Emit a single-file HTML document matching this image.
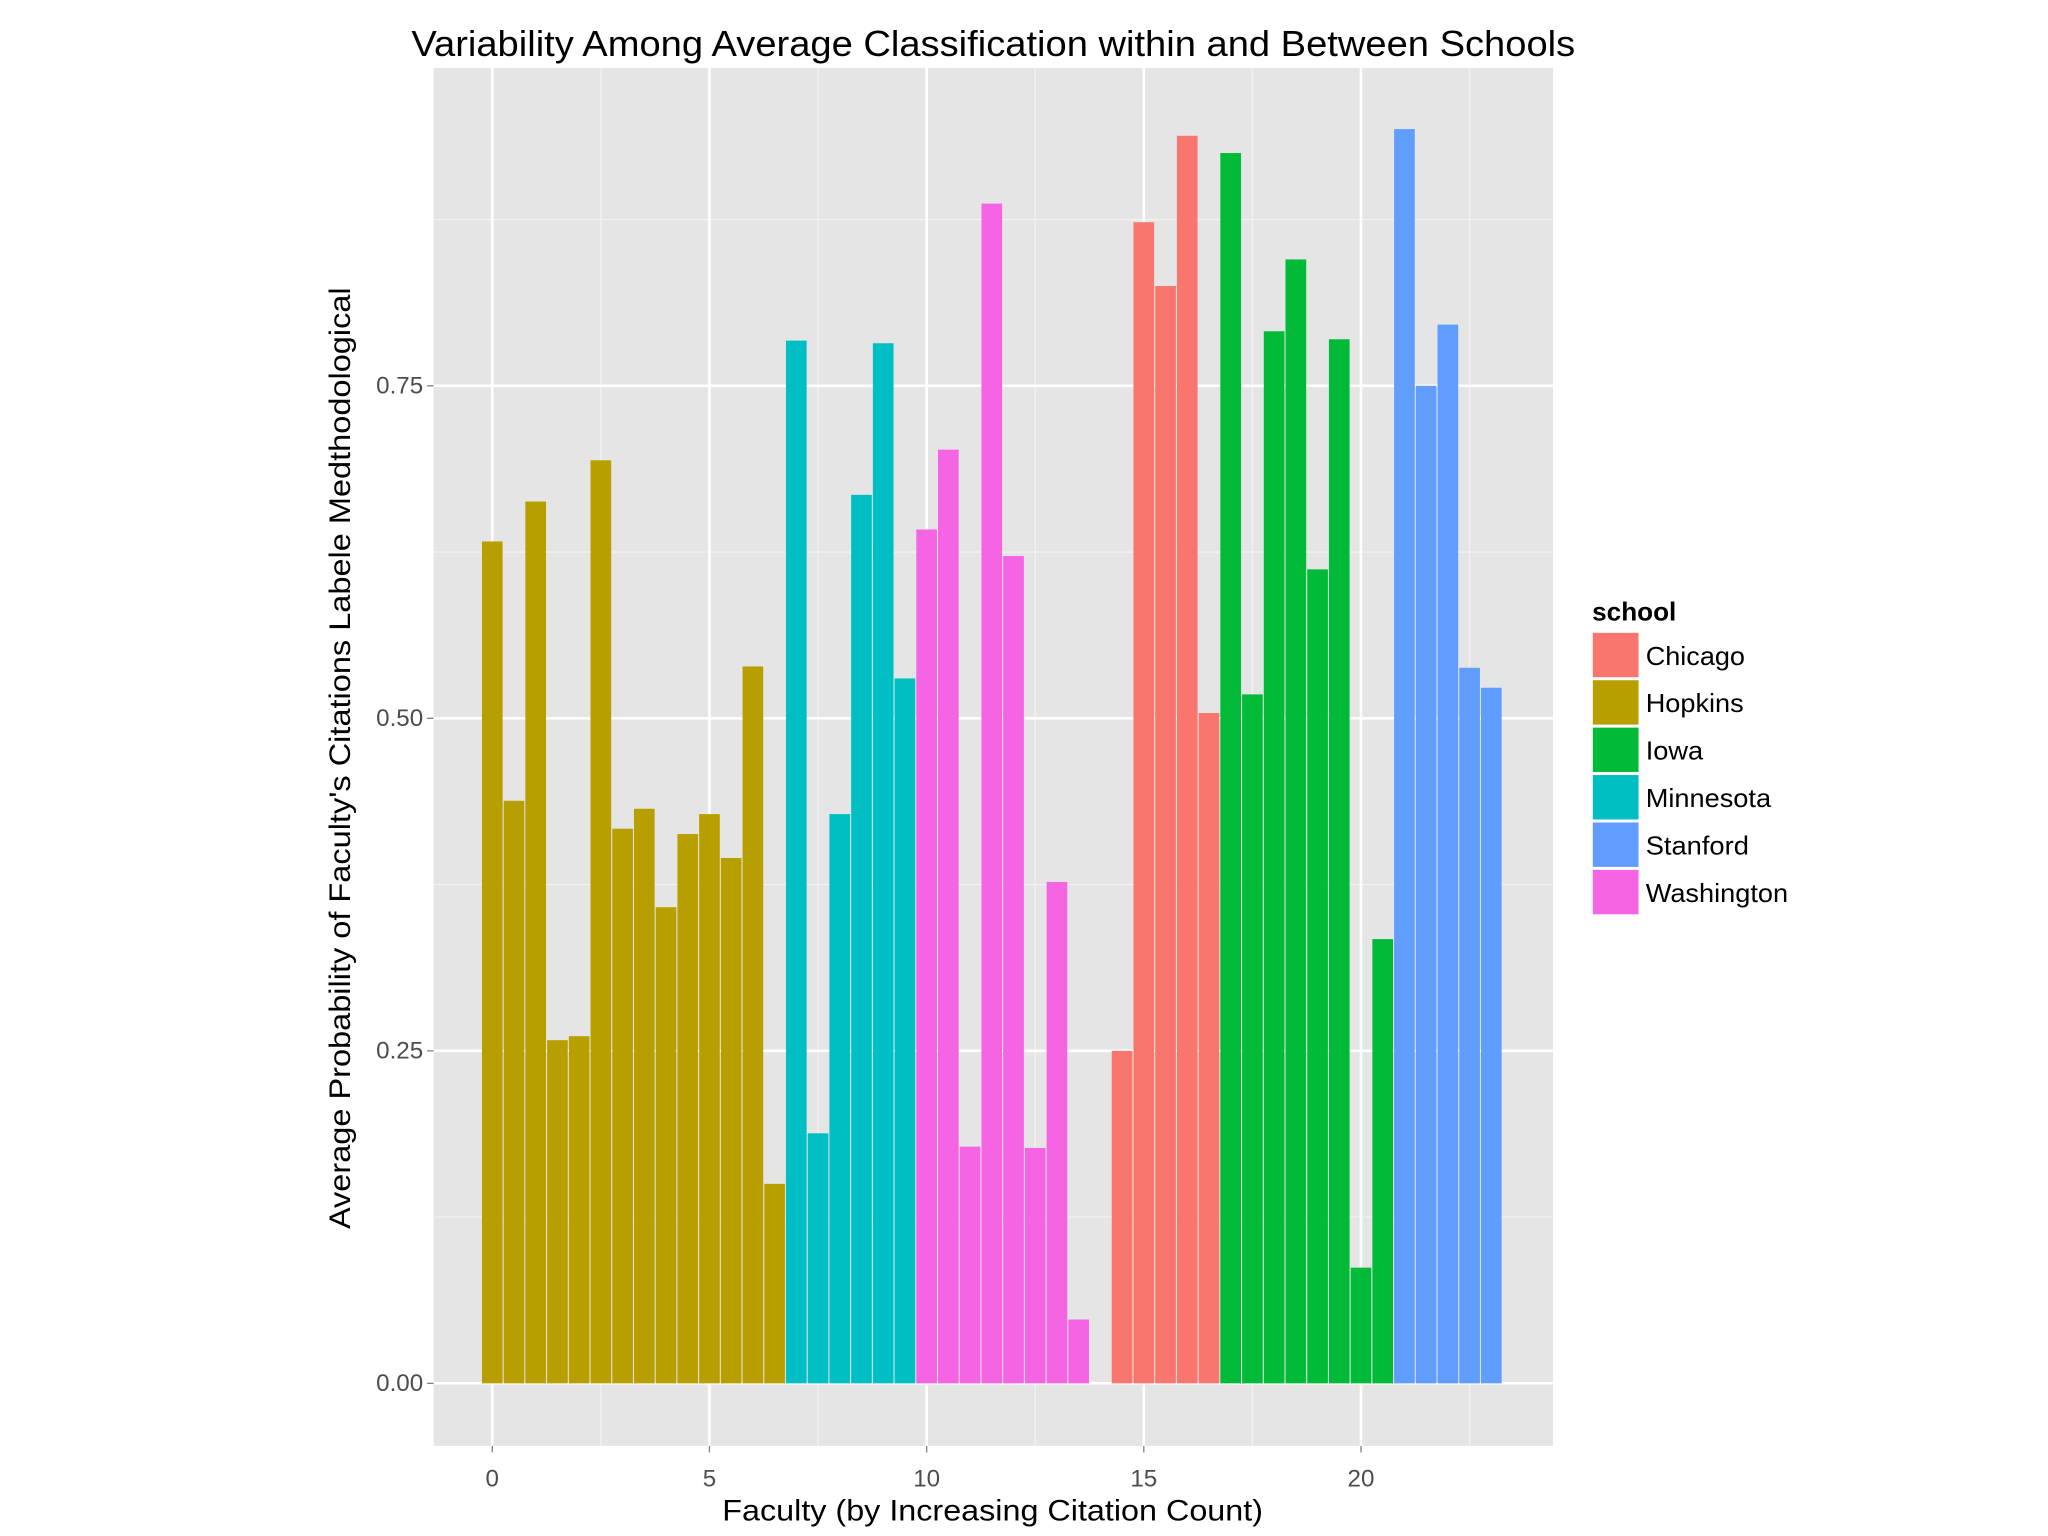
<!DOCTYPE html>
<html><head><meta charset="utf-8"><style>
html,body{margin:0;padding:0;background:#fff;}
svg{display:block;font-family:"Liberation Sans",Arial,sans-serif;}
</style></head><body>
<svg id="chart" width="2048" height="1536" viewBox="0 0 1568 1176" xmlns="http://www.w3.org/2000/svg">
<text x="315" y="43" font-size="28" textLength="891" lengthAdjust="spacingAndGlyphs" fill="#000">Variability Among Average Classification within and Between Schools</text>
<rect x="332" y="52" width="857" height="1055" fill="#E5E5E5"/>
<g id="grid"></g>
<g id="bars"></g>
<g id="axes"></g>
<text transform="translate(268,941) rotate(-90)" font-size="23" textLength="721" lengthAdjust="spacingAndGlyphs" fill="#000">Average Probability of Faculty's Citations Labele Medthodological</text>
<text x="553" y="1164" font-size="23" textLength="414" lengthAdjust="spacingAndGlyphs" fill="#000">Faculty (by Increasing Citation Count)</text>
<g id="legend"></g>
</svg>
<script>
const schools = ["Chicago","Hopkins","Iowa","Minnesota","Stanford","Washington"];
const colors = ["#F8766D","#B79F00","#00BA38","#00BFC4","#619CFF","#F564E3"];
const hopkinsValues = [0.633,0.438,0.663,0.258,0.261,0.694,0.417,0.432,0.358,0.413,0.428,0.395,0.539,0.150];
const minnesotaValues = [0.784,0.188,0.428,0.668,0.782,0.530];
const washingtonValues = [0.642,0.702,0.178,0.887,0.622,0.177,0.377,0.048];
const chicagoValues = [0.250,0.873,0.825,0.938,0.504];
const iowaValues = [0.925,0.518,0.791,0.845,0.612,0.785,0.087,0.334];
const stanfordValues = [0.943,0.750,0.796,0.538,0.523];
const seriesStart = {Hopkins:0, Minnesota:7, Washington:10, Chicago:14.5, Iowa:17, Stanford:21};
const xTicks = [0,5,10,15,20];
const yTicks = [0,0.25,0.5,0.75];
const yTickLabels = ["0.00","0.25","0.50","0.75"];

const NS="http://www.w3.org/2000/svg";
const X0=332,X1=1189,Y0=52,Y1=1107;
const xMin=-1.35,xMax=24.42,yMin=-0.047,yMax=0.989;
const xs=v=>X0+(v-xMin)/(xMax-xMin)*(X1-X0);
const ys=v=>Y1-(v-yMin)/(yMax-yMin)*(Y1-Y0);
function mk(t,a,p){const e=document.createElementNS(NS,t);for(const k in a)e.setAttribute(k,a[k]);p.appendChild(e);return e;}
const grid=document.getElementById('grid'),bars=document.getElementById('bars'),axes=document.getElementById('axes'),legend=document.getElementById('legend');
for(let i=0;i<yTicks.length;i++){const v=yTicks[i]+0.125;
 const l=mk('line',{x1:X0,x2:X1,y1:ys(v),y2:ys(v),stroke:'#F2F2F2','stroke-width':1},grid);
 
 }
for(let i=0;i<xTicks.length;i++){const v=xTicks[i]+2.5;
 const l=mk('line',{x1:xs(v),x2:xs(v),y1:Y0,y2:Y1,stroke:'#F2F2F2','stroke-width':1},grid);
 
 }
yTicks.forEach((v,i)=>{
 const l=mk('line',{x1:X0,x2:X1,y1:ys(v),y2:ys(v),stroke:'#fff','stroke-width':2},grid);
 
 
 const t=mk('line',{x1:X0-5,x2:X0,y1:ys(v),y2:ys(v),stroke:'#7F7F7F','stroke-width':1},axes);
 
 
 const tx=mk('text',{x:X0-8,y:ys(v)+6,'font-size':18.5,'text-anchor':'end',fill:'#4D4D4D'},axes);
 tx.textContent=yTickLabels[i];
 
 
});
xTicks.forEach(v=>{
 const l=mk('line',{x1:xs(v),x2:xs(v),y1:Y0,y2:Y1,stroke:'#fff','stroke-width':2},grid);
 
 
 const t=mk('line',{x1:xs(v),x2:xs(v),y1:Y1,y2:Y1+5,stroke:'#7F7F7F','stroke-width':1},axes);
 
 
 const tx=mk('text',{x:xs(v),y:Y1+31,'font-size':18.5,'text-anchor':'middle',fill:'#4D4D4D'},axes);
 tx.textContent=String(v);
 
 
});
const seriesValues={Hopkins:hopkinsValues,Minnesota:minnesotaValues,Washington:washingtonValues,Chicago:chicagoValues,Iowa:iowaValues,Stanford:stanfordValues};
const bw=0.5;
Object.keys(seriesValues).forEach(s=>{
 const col=colors[schools.indexOf(s)];
 seriesValues[s].forEach((v,i)=>{
  const c=seriesStart[s]+i*0.5;
  const r=mk('rect',{x:xs(c-bw/2)+0.4,y:ys(v),width:xs(c+bw/2)-xs(c-bw/2)-0.8,height:ys(0)-ys(v),fill:col},bars);
  
  
 });
});
const lt=mk('text',{x:1219,y:475,'font-size':20,'font-weight':'bold',fill:'#000'},legend);
lt.textContent='school';


const labelWidths=[76,75,44,96,79,109];
schools.forEach((s,i)=>{
 const y=484+i*36.3;
 const r=mk('rect',{x:1219,y:y,width:36,height:35,fill:colors[i],stroke:'#fff','stroke-width':1},legend);
 
 
 const t=mk('text',{x:1260,y:y+25,'font-size':20,fill:'#000',textLength:labelWidths[i],lengthAdjust:'spacingAndGlyphs'},legend);
 t.textContent=s;
 
 
});
</script>
</body></html>
